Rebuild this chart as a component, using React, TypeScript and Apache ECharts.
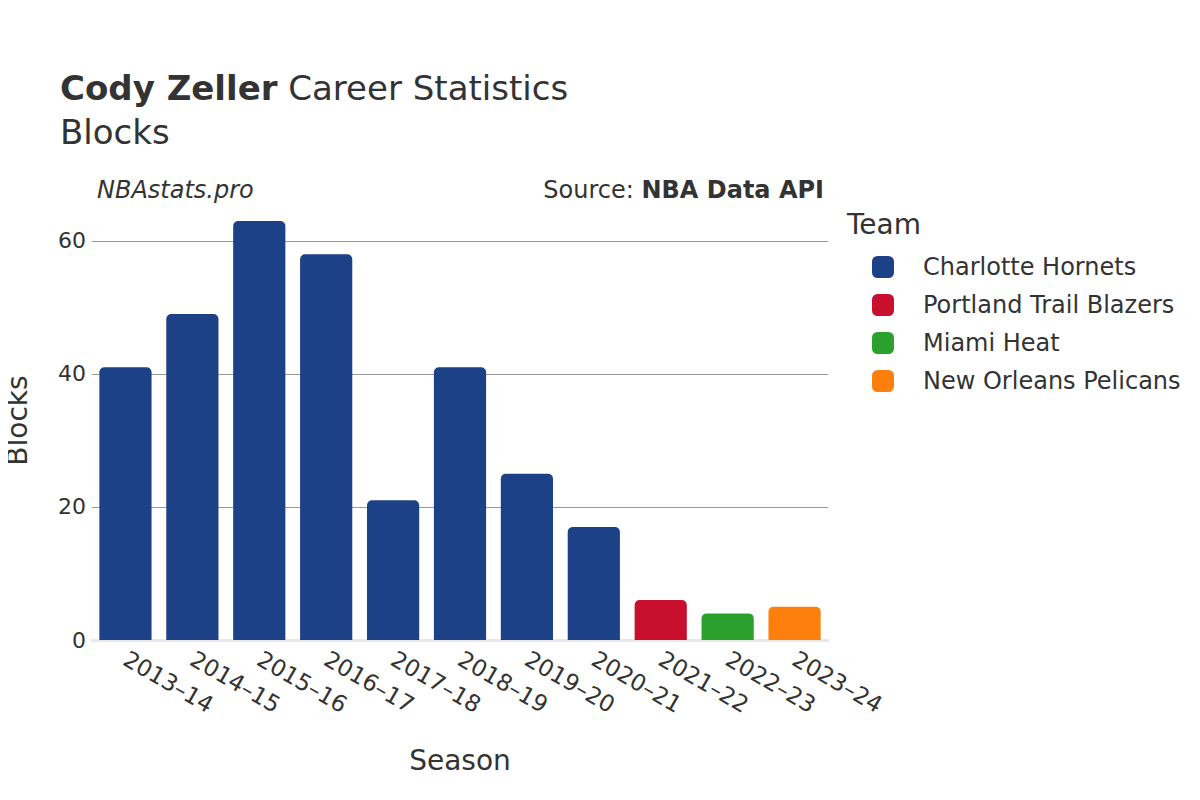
import React, { useEffect, useRef } from "react";
import * as echarts from "echarts";

const seasonLabels = ["2013–14", "2014–15", "2015–16", "2016–17", "2017–18", "2018–19", "2019–20", "2020–21", "2021–22", "2022–23", "2023–24"];
const blocks = [41, 49, 63, 58, 21, 41, 25, 17, 6, 4, 5];
const seasonTeams = [
  "Charlotte Hornets", "Charlotte Hornets", "Charlotte Hornets", "Charlotte Hornets",
  "Charlotte Hornets", "Charlotte Hornets", "Charlotte Hornets", "Charlotte Hornets",
  "Portland Trail Blazers", "Miami Heat", "New Orleans Pelicans",
];
const teams = ["Charlotte Hornets", "Portland Trail Blazers", "Miami Heat", "New Orleans Pelicans"];
const teamColors = ["#1c4187", "#c8102e", "#2ca02c", "#ff7f0e"];
const yTicks = [0, 20, 40, 60];

const FONT = "'DejaVu Sans', sans-serif";
const TEXT = "#333333";

export default function App() {
  const ref = useRef<HTMLDivElement>(null);
  useEffect(() => {
    if (!ref.current) return;
    const chart = echarts.init(ref.current, null, { renderer: "svg" });
    const series = teams.map((team, ti) => ({
      name: team,
      type: "bar",
      stack: "total",
      barWidth: "78%",
      itemStyle: { color: teamColors[ti], borderRadius: [5, 5, 0, 0] },
      data: blocks.map((v, i) => (seasonTeams[i] === team ? v : null)),
    }));
    chart.setOption({
      animation: false,
      backgroundColor: "#ffffff",
      textStyle: { fontFamily: FONT },
      grid: { left: 92, right: 372, top: 201, bottom: 160, outerBoundsMode: "none", containLabel: false },
      legend: {
        data: teams,
        orient: "vertical",
        left: 872,
        top: 253,
        padding: 0,
        itemWidth: 22,
        itemHeight: 22,
        itemGap: 10,
        icon: "roundRect",
        textStyle: { fontSize: 24, color: TEXT, fontFamily: FONT, padding: [0, 0, 0, 24], lineHeight: 28 },
        selectedMode: false,
      },
      xAxis: {
        type: "category",
        data: seasonLabels,
        axisTick: { show: false },
        axisLine: { show: true, lineStyle: { color: "#e8e8e8", width: 3 } },
        axisLabel: {
          rotate: -30,
          fontSize: 23,
          color: TEXT,
          fontFamily: FONT,
          margin: 17,
          interval: 0,
          align: "left",
        },
        name: "Season",
        nameLocation: "middle",
        nameGap: 106,
        nameTextStyle: { fontSize: 28, color: TEXT, fontFamily: FONT },
      },
      yAxis: {
        type: "value",
        min: 0,
        max: 66,
        interval: 20,
        axisLine: { show: false },
        axisTick: { show: false },
        splitLine: { showMaxLine: false, lineStyle: { color: "#999999", width: 1 } },
        axisLabel: {
          fontSize: 22,
          color: TEXT,
          fontFamily: FONT,
          margin: 6,
          showMaxLabel: false,
          formatter: (v: number) => (yTicks.includes(v) ? String(v) : ""),
        },
        name: "Blocks",
        nameLocation: "middle",
        nameGap: 61,
        nameTextStyle: { fontSize: 28, color: TEXT, fontFamily: FONT },
      },
      graphic: [
        {
          type: "text",
          left: 60,
          top: 71,
          style: {
            text: "{b|Cody Zeller} Career Statistics",
            rich: {
              b: { fontWeight: "bold", fontSize: 34, fill: TEXT, fontFamily: FONT },
            },
            fontSize: 34,
            fill: TEXT,
            fontFamily: FONT,
          },
        },
        {
          type: "text",
          left: 60,
          top: 115,
          style: { text: "Blocks", fontSize: 34, fill: TEXT, fontFamily: FONT },
        },
        {
          type: "text",
          left: 97,
          top: 178,
          style: { text: "NBAstats.pro", fontSize: 24, fontStyle: "italic", fill: TEXT, fontFamily: FONT },
        },
        {
          type: "text",
          right: 376,
          top: 178,
          style: {
            text: "Source: {b|NBA Data API}",
            rich: { b: { fontWeight: "bold", fontSize: 24, fill: TEXT, fontFamily: FONT } },
            fontSize: 24,
            fill: TEXT,
            fontFamily: FONT,
          },
        },
        {
          type: "text",
          left: 847,
          top: 210,
          style: { text: "Team", fontSize: 28, fill: TEXT, fontFamily: FONT },
        },
      ],
      series,
    });
    return () => chart.dispose();
  }, []);
  return <div ref={ref} style={{ width: 1200, height: 800, margin: -8 }} />;
}
